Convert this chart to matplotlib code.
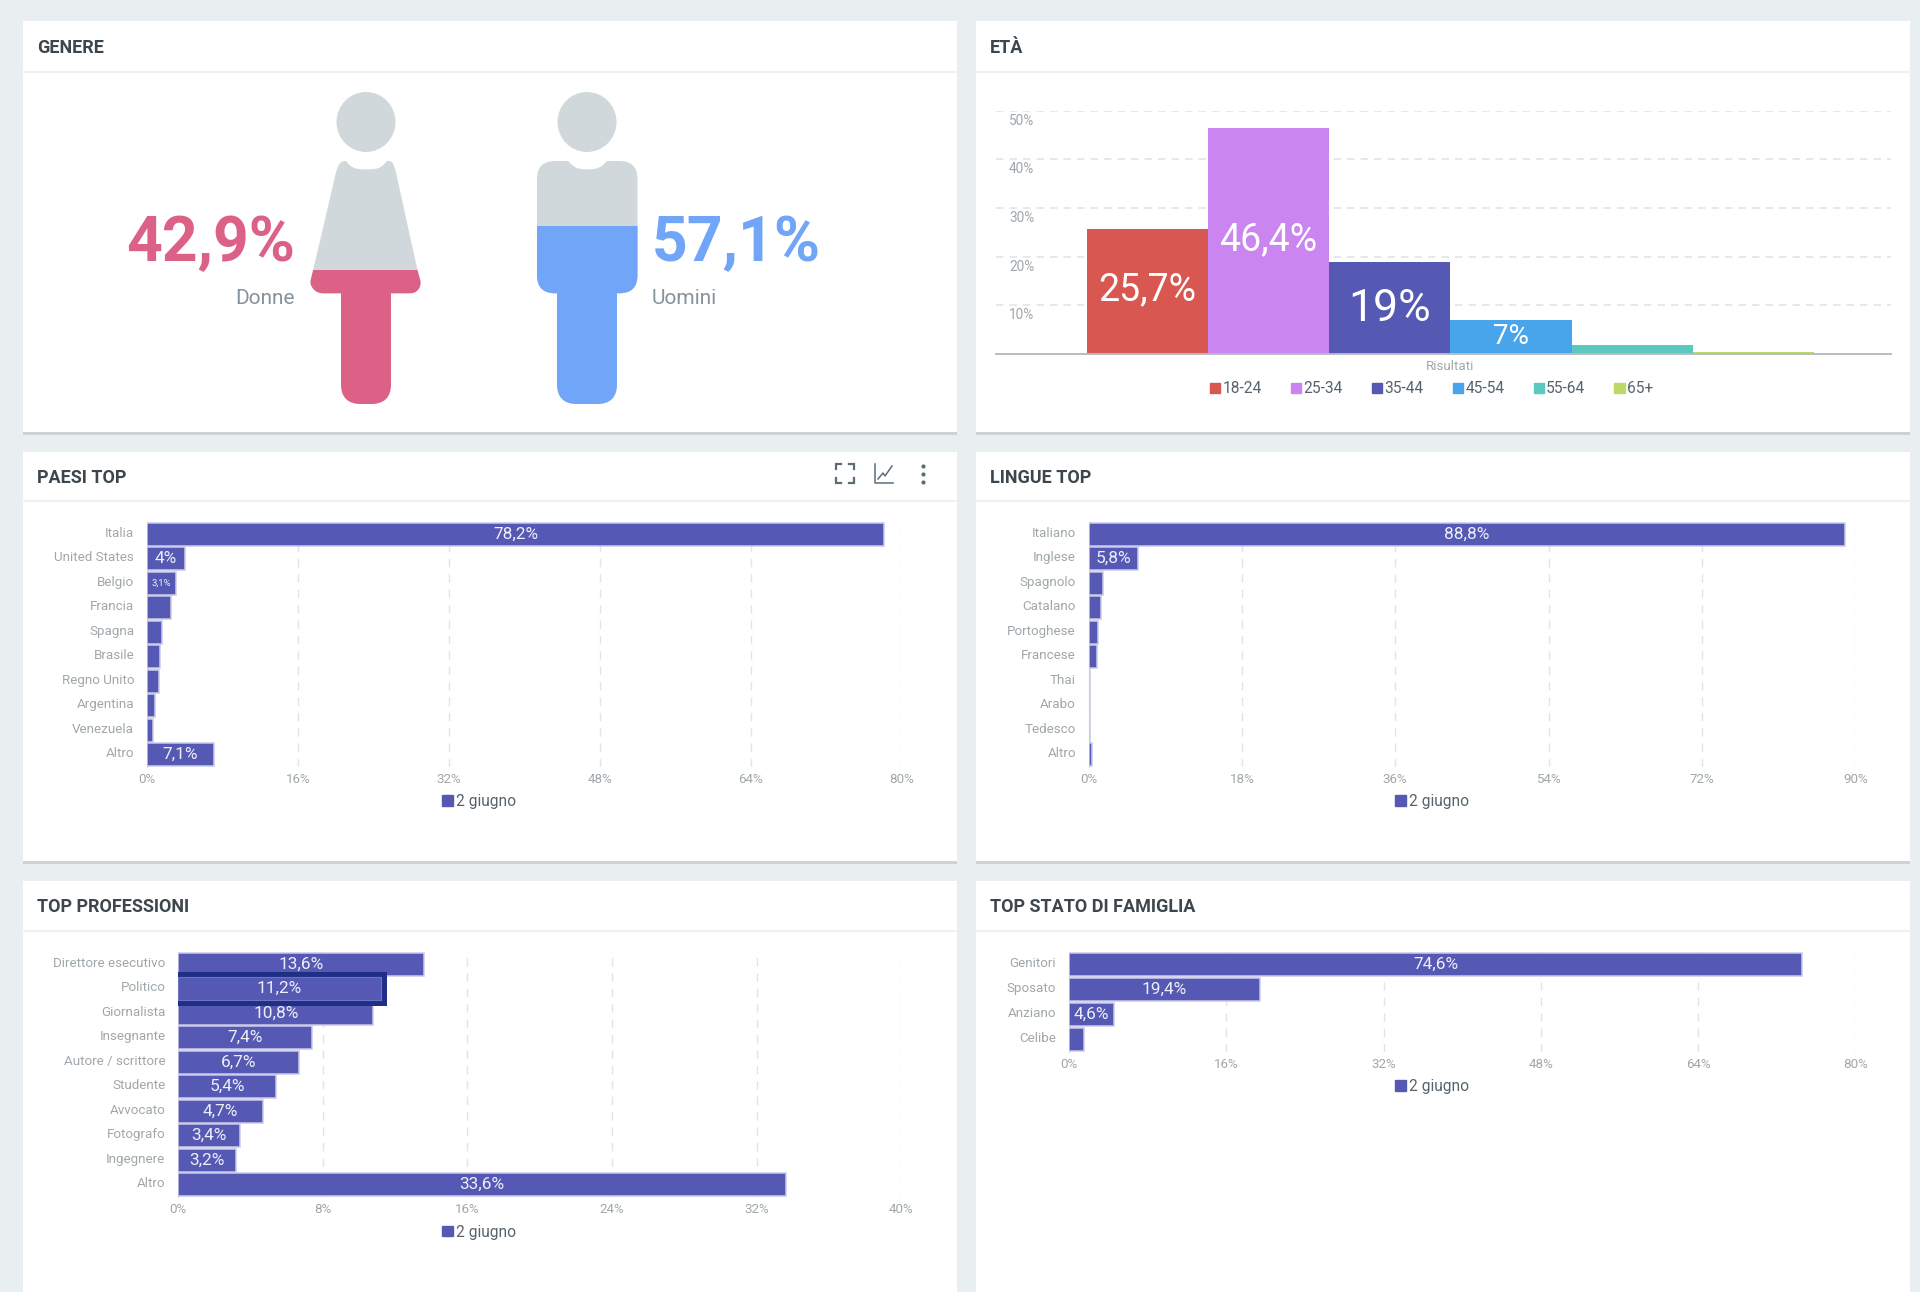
import matplotlib
matplotlib.use('Agg')
import matplotlib.pyplot as plt
from matplotlib.patches import Rectangle, PathPatch, Patch
from matplotlib.path import Path
from matplotlib.transforms import Affine2D, ScaledTranslation

plt.rcParams['font.family'] = ['Roboto', 'DejaVu Sans']

W, H = 1920, 1292
PX = 0.72  # one pixel in points at dpi 100

# data
gender_values = [42.9, 57.1]
gender_texts = ['42,9%', '57,1%']
gender_names = ['Donne', 'Uomini']

age_groups = ['18-24', '25-34', '35-44', '45-54', '55-64', '65+']
age_values = [25.7, 46.4, 19, 7, 1.9, 0.4]
age_texts = ['25,7%', '46,4%', '19%', '7%', '', '']
age_ticks = [10, 20, 30, 40, 50]

country_names = ['Italia', 'United States', 'Belgio', 'Francia', 'Spagna', 'Brasile',
                 'Regno Unito', 'Argentina', 'Venezuela', 'Altro']
country_values = [78.2, 4, 3.1, 2.5, 1.6, 1.4, 1.25, 0.85, 0.65, 7.1]
country_texts = ['78,2%', '4%', '3,1%', '', '', '', '', '', '', '7,1%']
country_ticks = [0, 16, 32, 48, 64, 80]

language_names = ['Italiano', 'Inglese', 'Spagnolo', 'Catalano', 'Portoghese', 'Francese',
                  'Thai', 'Arabo', 'Tedesco', 'Altro']
language_values = [88.8, 5.8, 1.65, 1.5, 1.1, 1.0, 0.2, 0.2, 0.2, 0.4]
language_texts = ['88,8%', '5,8%', '', '', '', '', '', '', '', '']
language_ticks = [0, 18, 36, 54, 72, 90]

job_names = ['Direttore esecutivo', 'Politico', 'Giornalista', 'Insegnante', 'Autore / scrittore',
             'Studente', 'Avvocato', 'Fotografo', 'Ingegnere', 'Altro']
job_values = [13.6, 11.2, 10.8, 7.4, 6.7, 5.4, 4.7, 3.4, 3.2, 33.6]
job_texts = ['13,6%', '11,2%', '10,8%', '7,4%', '6,7%', '5,4%', '4,7%', '3,4%', '3,2%', '33,6%']
job_ticks = [0, 8, 16, 24, 32, 40]

family_names = ['Genitori', 'Sposato', 'Anziano', 'Celibe']
family_values = [74.6, 19.4, 4.6, 1.55]
family_texts = ['74,6%', '19,4%', '4,6%', '']
family_ticks = [0, 16, 32, 48, 64, 80]

series_name = '2 giugno'

# colours
BG = '#e9eef1'
TITLE = '#3c464c'
TICK = '#a0a7ab'
LEGEND = '#56636b'
BAR = '#5659b3'
BAR_EDGE = '#c9cae9'
GRID = '#e2e5e7'
age_colors = ['#d85750', '#cb85f0', '#5659b3', '#48a5eb', '#5cc8bf', '#bcd96a']

fig = plt.figure(figsize=(W / 100, H / 100), dpi=100, facecolor=BG)


def px_axes(x0, y0, x1, y1, **kw):
    return fig.add_axes([x0 / W, 1 - y1 / H, (x1 - x0) / W, (y1 - y0) / H], **kw)


# page layer in pixel coordinates
page = px_axes(0, 0, W, H)
page.set_xlim(0, W)
page.set_ylim(H, 0)
page.axis('off')

cards = [(23, 21, 957, 432, 72, 'GENERE'), (976, 21, 1910, 432, 72, 'ETÀ'),
         (23, 452, 957, 861, 501, 'PAESI TOP'), (976, 452, 1910, 861, 501, 'LINGUE TOP'),
         (23, 881, 957, 1310, 931, 'TOP PROFESSIONI'), (976, 881, 1910, 1310, 931, 'TOP STATO DI FAMIGLIA')]
for x0, y0, x1, y1, line_y, title in cards:
    page.add_patch(Rectangle((x0, y0 + 2.5), x1 - x0, y1 - y0, color='#cdd2d5', lw=0))
    page.add_patch(Rectangle((x0, y0), x1 - x0, y1 - y0, color='white', lw=0))
    page.plot([x0, x1], [line_y, line_y], color='#eef1f2', lw=1.5 * PX * 1.4)
    page.text(x0 + 14, (y0 + line_y) / 2 + 1.5, title, fontsize=13, fontweight='bold',
              color=TITLE, va='center', ha='left')

# toolbar icons of PAESI TOP
ICON = '#5d6d76'
for xs, ys in [([836, 836, 841], [469, 464, 464]), ([849, 854, 854], [464, 464, 469]),
               ([836, 836, 841], [478, 483, 483]), ([849, 854, 854], [483, 483, 478])]:
    page.plot(xs, ys, color=ICON, lw=1.6, solid_joinstyle='miter')
page.plot([875, 875, 893], [464, 483, 483], color=ICON, lw=1.1)
page.plot([878, 883, 885, 892], [479, 473, 476, 466], color=ICON, lw=1.1)
page.scatter([923, 923, 923], [466, 474, 482], s=9, color=ICON, lw=0)


def rounded_path(points):
    """points: (x, y, radius) closed outline, corners rounded by quadratic curves."""
    verts, codes = [], []
    n = len(points)
    for i, (x, y, r) in enumerate(points):
        px, py, _ = points[i - 1]
        nx, ny, _ = points[(i + 1) % n]
        d1 = ((px - x) ** 2 + (py - y) ** 2) ** 0.5
        d2 = ((nx - x) ** 2 + (ny - y) ** 2) ** 0.5
        start = (x + (px - x) * r / d1, y + (py - y) * r / d1)
        end = (x + (nx - x) * r / d2, y + (ny - y) * r / d2)
        verts += [start, (x, y), end]
        codes += [Path.LINETO, Path.CURVE3, Path.CURVE3]
    codes[0] = Path.MOVETO
    verts.append(verts[0])
    codes.append(Path.CLOSEPOLY)
    return Path(verts, codes)


def figure_path(cx, outline):
    head = Path.unit_circle().transformed(Affine2D().scale(29.5, 30).translate(cx, 122))
    return Path.make_compound_path(head, rounded_path(outline))


woman_cx, man_cx = 366, 587
woman = [(337, 168, 5), (341, 161, 4), (346, 161, 0.1), (352, 168, 5), (366, 170, 7), (381, 168, 5),
         (387, 161, 0.1), (392, 161, 4), (395, 168, 5), (417.6, 270.7, 1), (421, 283, 3),
         (418, 293.3, 8), (391, 293.3, 0.1), (391, 404, 20), (341, 404, 20), (341, 293.3, 0.1),
         (315, 293.3, 8), (310, 283, 3), (313, 270.7, 1)]
man = [(537, 161, 18), (568, 161, 0.1), (575, 168, 5), (587, 170, 7), (600, 168, 5), (607, 161, 0.1),
       (637.5, 161, 18), (637.5, 293.3, 18), (617, 293.3, 0.1), (617, 404, 20), (557, 404, 20),
       (557, 293.3, 0.1), (537, 293.3, 18)]

# silhouettes, filled from the feet up to the share of each gender
gender_ax = px_axes(23, 92, 957, 404)
gender_ax.set_xlim(23, 957)
gender_ax.set_ylim(404, 92)
gender_ax.axis('off')
fill_colors = ['#dc6186', '#71a5f7']
for value, color, cx, outline in zip(gender_values, fill_colors, [woman_cx, man_cx], [woman, man]):
    shape = PathPatch(figure_path(cx, outline), facecolor='#d0d8db', lw=0)
    gender_ax.add_patch(shape)
    level = 404 - value / 100 * 312
    fill = gender_ax.bar(cx, 404 - level, bottom=level, width=130, color=color, lw=0)[0]
    fill.set_clip_path(shape)

page.text(295, 260.7, gender_texts[0], fontsize=45, fontweight='bold', color=fill_colors[0],
          ha='right', va='baseline')
page.text(651.5, 260.7, gender_texts[1], fontsize=45, fontweight='bold', color=fill_colors[1],
          ha='left', va='baseline')
page.text(295, 298, gender_names[0], fontsize=15, color='#84939c', ha='right', va='center')
page.text(652, 298, gender_names[1], fontsize=15, color='#84939c', ha='left', va='center')

# age chart
age_ax = px_axes(996, 110.7, 1891, 354)
age_ax.patch.set_alpha(0)
age_pos = list(range(len(age_groups)))
age_ax.bar(age_pos, age_values, width=1, color=age_colors, lw=0, zorder=3)
age_ax.set_xlim(-1.249, 6.135)
age_ax.set_ylim(0, 50)
age_ax.set_yticks(age_ticks)
age_ax.set_yticklabels([])
age_ax.yaxis.grid(True, color='#dfe3e5', lw=1.5 * PX, linestyle=(0, (5, 4)), zorder=1)
age_ax.tick_params(axis='y', length=0)
age_ax.set_xticks([2.5])
age_ax.set_xticklabels(['Risultati'], fontsize=9.6, color=TICK)
age_ax.tick_params(axis='x', length=0, pad=4)
for name, spine in age_ax.spines.items():
    spine.set_visible(name == 'bottom')
age_ax.spines['bottom'].set_color('#b7bdc0')
age_ax.spines['bottom'].set_linewidth(1.4)
age_ax.spines['bottom'].set_zorder(4)
age_ax.set_axisbelow(True)
for t in age_ticks:
    age_ax.annotate(f'{t}%', xy=(0, t), xycoords=('axes fraction', 'data'),
                    xytext=(13 * PX, -10 * PX), textcoords='offset points',
                    fontsize=9.8, color=TICK, ha='left', va='center')
age_sizes = {'25,7%': 27, '46,4%': 27, '19%': 32, '7%': 20}
age_shift = {'25,7%': 1, '46,4%': 1, '19%': -1, '7%': 0}
for pos, value, text in zip(age_pos, age_values, age_texts):
    if text:
        age_ax.annotate(text, xy=(pos, value / 2), xytext=(0, age_shift[text]), textcoords='offset points',
                        fontsize=age_sizes[text], color='white', ha='center', va='center', zorder=5)
age_handles = [Patch(color=c, label=g) for c, g in zip(age_colors, age_groups)]
fig.legend(handles=age_handles, loc='center', bbox_to_anchor=(1431.5 / W, 1 - 389 / H), ncol=6,
           frameon=False, fontsize=11.2, labelcolor=LEGEND, handlelength=0.66, handleheight=0.66,
           handletextpad=0.15, columnspacing=1.88, borderpad=0, borderaxespad=0)


def hbar_panel(box, names, values, texts, ticks, legend_xy, highlight=None):
    ax = px_axes(*box)
    ax.patch.set_alpha(0)
    pos = list(range(len(names)))
    ax.barh(pos, values, height=0.92, color=BAR, edgecolor=BAR_EDGE, lw=1.1, zorder=3)
    if highlight is not None:
        ax.barh(highlight, values[highlight], height=0.92, facecolor='none',
                edgecolor='#1f2f86', lw=11 * PX, zorder=4)
        ax.barh(highlight, values[highlight], height=0.92, color=BAR, edgecolor='#7073c4',
                lw=0.8, zorder=5)
    ax.set_xlim(ticks[0], ticks[-1])
    ax.set_ylim(len(names) - 0.5, -0.5)
    ax.set_yticks(pos)
    ax.set_yticklabels(names, fontsize=9.6, color=TICK)
    ax.set_xticks(ticks)
    ax.set_xticklabels([f'{t}%' for t in ticks], fontsize=9.6, color=TICK)
    ax.tick_params(axis='y', length=0, pad=9.2)
    ax.tick_params(axis='x', length=0, pad=4)
    # tick_params resets the label transforms, so the shift comes after it
    up = ScaledTranslation(0, 2.4 / 100, fig.dpi_scale_trans)
    for label in ax.get_yticklabels():
        label.set_transform(label.get_transform() + up)
    ax.xaxis.grid(True, color=GRID, lw=1.4 * PX, linestyle=(0, (6, 5)), zorder=1)
    ax.set_axisbelow(True)
    for name, spine in ax.spines.items():
        spine.set_visible(name == 'left')
    ax.spines['left'].set_color('#d3d6ea')
    for y, value, text in zip(pos, values, texts):
        if text:
            size = 6.8 if text == '3,1%' else 12.4
            ax.text(value / 2, y, text, fontsize=size, color='#eeeef8', ha='center', va='center',
                    zorder=6)
    fig.legend(handles=[Patch(color=BAR, label=series_name)], loc='center',
               bbox_to_anchor=(legend_xy[0] / W, 1 - legend_xy[1] / H), frameon=False, fontsize=11.2,
               labelcolor=LEGEND, handlelength=0.68, handleheight=0.68, handletextpad=0.2,
               borderpad=0, borderaxespad=0)


hbar_panel((147, 522, 901.4, 767), country_names, country_values, country_texts, country_ticks, (479, 801.5))
hbar_panel((1088.6, 522, 1855.3, 767), language_names, language_values, language_texts, language_ticks, (1432, 801.5))
hbar_panel((178.2, 952, 901.4, 1197), job_names, job_values, job_texts, job_ticks, (479, 1232), highlight=1)
hbar_panel((1069, 952, 1855.3, 1052), family_names, family_values, family_texts, family_ticks, (1432, 1086.5))

fig.savefig('out.png', dpi=100, facecolor=BG)
